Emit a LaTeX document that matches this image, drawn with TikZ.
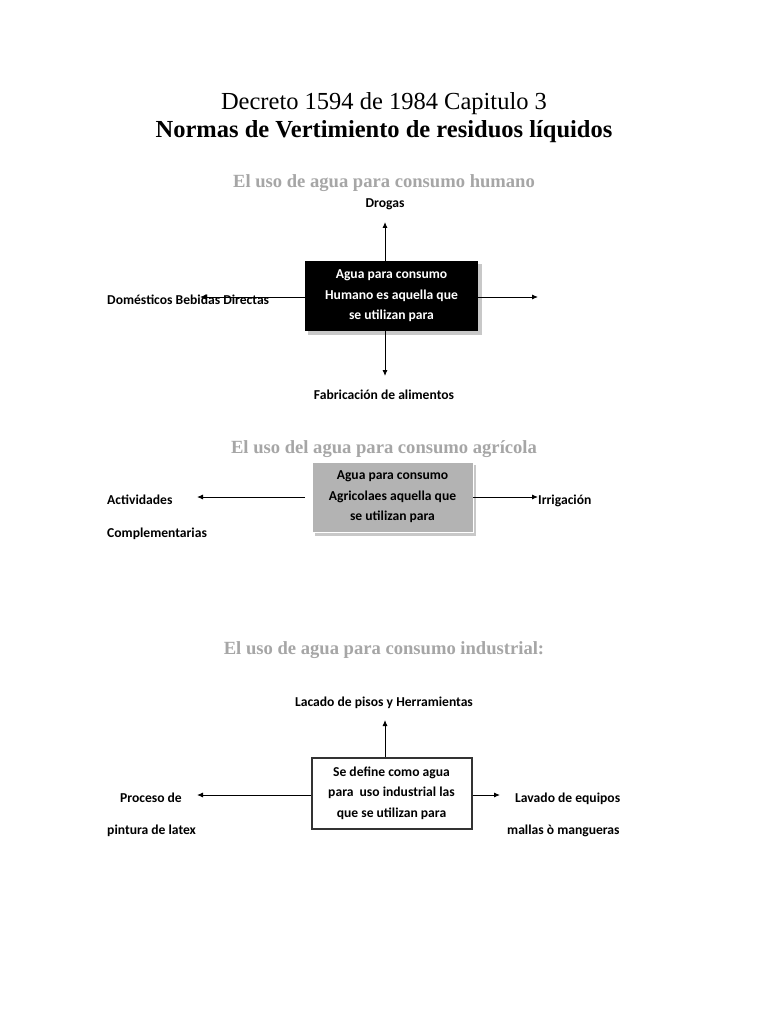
\documentclass[tikz,border=0pt]{standalone}
\usepackage{fontspec}
\setmainfont{Liberation Serif}
\newfontfamily\lbl{Carlito}
\usetikzlibrary{arrows.meta}
\definecolor{headgray}{HTML}{A6A6A6}
\definecolor{boxgray}{HTML}{B3B3B3}
\definecolor{shadowgray}{HTML}{C8C8C8}
\tikzset{
  x=1pt, y=-1pt,
  lab/.style={font=\lbl\bfseries\fontsize{13.6}{15}\selectfont, inner sep=0pt, anchor=base},
  labl/.style={lab, anchor=base west},
  head/.style={font=\bfseries\fontsize{18.6}{21}\selectfont, text=headgray, inner sep=0pt, anchor=base},
  boxtxt/.style={font=\lbl\bfseries\fontsize{13.6}{20.5}\selectfont, align=center},
  arr/.style={-{Latex[length=6pt,width=5pt]}, line width=0.9pt, black},
}
\begin{document}
\begin{tikzpicture}
\useasboundingbox[fill=white] (0,0) rectangle (768,1024);
% titles
\node[inner sep=0pt, anchor=base, font=\fontsize{24.5}{28}\selectfont] (t1) at (384,110) {Decreto 1594 de 1984 Capitulo 3};
\node[inner sep=0pt, anchor=base, font=\bfseries\fontsize{24.5}{28}\selectfont] (t2) at (384,138) {Normas de Vertimiento de residuos líquidos};

% ---- section 1
\node[head] (h1) at (384,188) {El uso de agua para consumo humano};
\fill[shadowgray] (308,264) rectangle (482,335);
\fill[black] (305,261) rectangle (478,331);
\node[boxtxt, text=white, minimum width=173pt, minimum height=70pt] (b1) at (391.5,296) {Agua para consumo\\Humano es aquella que\\se utilizan para};
\node[lab] (drogas) at (385,208) {Drogas};
\node[lab] (fab) at (384,399) {Fabricación de alimentos};
\node[labl] (dom) at (107,304) {Domésticos Bebidas Directas};
\coordinate (l1) at (200,297);
\coordinate (r1) at (538,297);
\coordinate (u1) at (385,222);
\coordinate (d1) at (385,376);
\draw[arr] (385,261) -- (u1);
\draw[arr] (385,331) -- (d1);
\draw[arr] (b1.west |- l1) -- (l1);
\draw[arr] (b1.east |- r1) -- (r1);

% ---- section 2
\node[head] (h2) at (384,453) {El uso del agua para consumo agrícola};
\fill[shadowgray] (315,465) rectangle (476,536);
\filldraw[fill=boxgray, draw=white, line width=1pt] (312,462) rectangle (473,532);
\node[boxtxt, minimum width=161pt, minimum height=70pt] (b2) at (392.5,497) {Agua para consumo\\Agricolaes aquella que\\se utilizan para};
\node[labl] (act) at (107,504) {Actividades};
\node[labl] (comp) at (107,537) {Complementarias};
\node[labl] (irr) at (538,504) {Irrigación};
\coordinate (l2) at (197,497);
\draw[arr] (305,497) -- (l2);
\draw[arr] (473,497) -- (irr.west |- b2);

% ---- section 3
\node[head] (h3) at (384,654) {El uso de agua para consumo industrial:};
\node[lab] (lac) at (384,706) {Lacado de pisos y Herramientas};
\node[draw=black!80, line width=2pt, fill=white, boxtxt, minimum width=160pt, minimum height=71pt] (b3) at (391.5,793) {Se define como agua\\para~ uso industrial las\\que se utilizan para};
\coordinate (u3) at (385,720);
\draw[arr] (385,757) -- (u3);
\node[lab] (proc) at (151,802) {Proceso de};
\node[labl] (pint) at (107,834) {pintura de latex};
\node[labl] (lav) at (515,802) {Lavado de equipos};
\node[labl] (mal) at (507,834) {mallas ò mangueras};
\coordinate (l3) at (197,795);
\coordinate (r3) at (500,795);
\draw[arr] (b3.west |- l3) -- (l3);
\draw[arr] (b3.east |- r3) -- (r3);
\end{tikzpicture}
\end{document}
